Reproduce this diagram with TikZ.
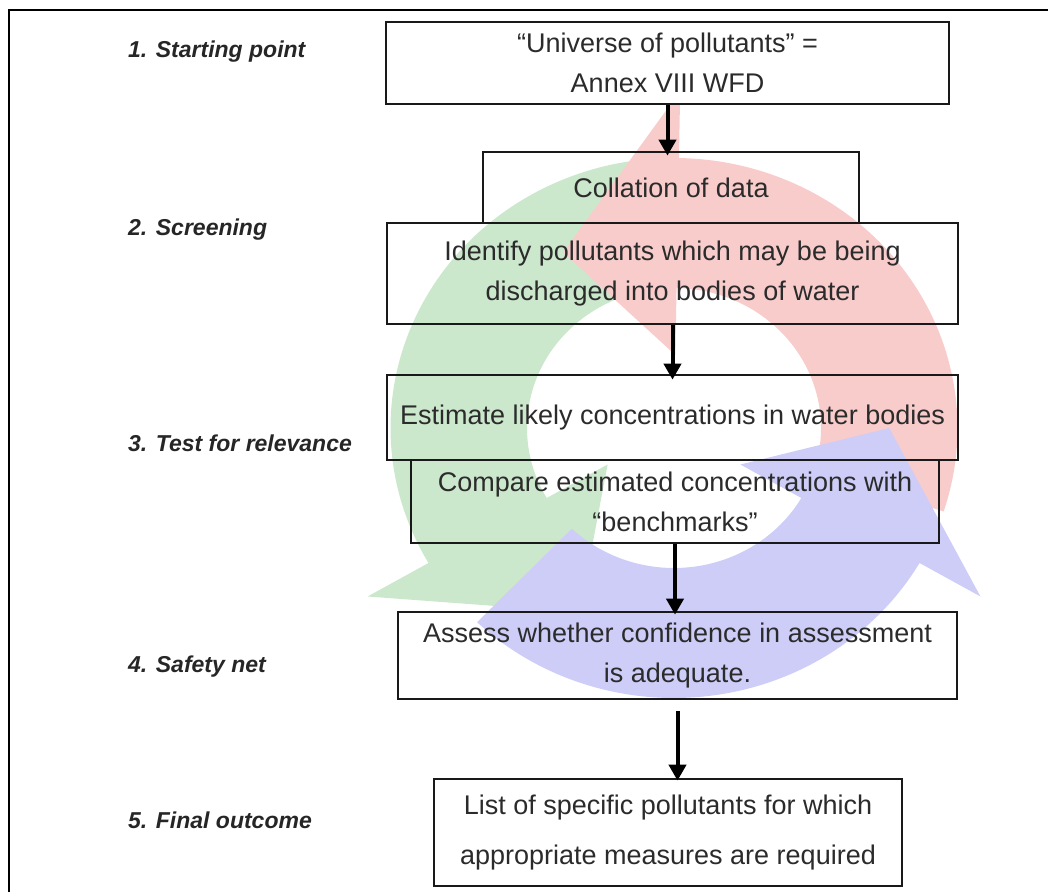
\documentclass[tikz,border=0pt]{standalone}
\usepackage{fontspec}
\setmainfont{Liberation Sans}
\usetikzlibrary{arrows.meta,positioning}
\definecolor{cycGreen}{HTML}{CCE8CC}
\definecolor{cycRed}{HTML}{F9CCCC}
\definecolor{cycBlue}{HTML}{CDCDF8}
\definecolor{boxInk}{HTML}{2B2B2B}

% one band of the cycle: colour, tail angle, head base angle, tip angle
\newcommand{\cyclearrow}[4]{%
  \fill[#1] (#2:270) arc[start angle=#2, end angle=#3, radius=270]
    -- (#3:337) -- (#4:205) -- (#3:73) -- (#3:140)
    arc[start angle=#3, end angle=#2, radius=140] -- cycle;}

\begin{document}
\begin{tikzpicture}[x=1pt,y=1pt,
    box/.style={draw=black!90,line width=2.7pt,align=center,inner sep=0pt,
                text=boxInk,font=\fontsize{27}{40}\selectfont},
    stage/.style={anchor=west,inner sep=0pt,text=black!85,
                  font=\fontsize{23}{28}\selectfont\bfseries\itshape},
    conn/.style={line width=4pt,-{Triangle[width=17pt,length=16pt]}}]
  \useasboundingbox (0,0) rectangle (1048,892);
  % frame
  \draw[line width=1.5pt] (9,0) |- (1048,882);

  % cycle behind the flow
  \begin{scope}[shift={(674,464)},xscale=1.05]
    \cyclearrow{cycGreen}{97}{210}{244}
    \cyclearrow{cycRed}{-18}{89}{121}
    \cyclearrow{cycBlue}{226}{330}{360}
  \end{scope}

  % flow boxes
  \node[box,fill=white,minimum width=563pt,minimum height=82pt] (start) at (667.5,829)
    {“Universe of pollutants” =\\Annex VIII WFD};
  \node[box,minimum width=376pt,minimum height=71pt] (collate) at (671,704.5)
    {Collation of data};
  \node[box,minimum width=571pt,minimum height=101pt] (identify) at (672.5,618.5)
    {Identify pollutants which may be being\\discharged into bodies of water};
  \node[box,minimum width=571pt,minimum height=85pt] (estimate) at (672.5,474.5)
    {Estimate likely concentrations in water bodies};
  \node[box,minimum width=528pt,minimum height=83pt] (compare) at (675,390.5)
    {Compare estimated concentrations with\\“benchmarks”};
  \node[box,minimum width=559pt,minimum height=87pt] (assess) at (677.5,236.5)
    {Assess whether confidence in assessment\\is adequate.};
  \node[box,minimum width=468pt,minimum height=107pt,
        font=\fontsize{27}{50}\selectfont] (outcome) at (668,59.5)
    {List of specific pollutants for which\\appropriate measures are required};

  % connectors
  \draw[conn,shorten >=-5pt] (start.south) -- (start.south |- collate.north);
  \draw[conn,shorten >=-6pt] (identify.south) -- (identify.south |- estimate.north);
  \draw[conn,shorten >=-4pt] (compare.south) -- (compare.south |- assess.north);
  \draw[conn,shorten <=11pt,shorten >=-3pt] (assess.south) -- (assess.south |- outcome.north);

  % stage labels
  \node[stage] (s1) at (128,840) {1. Starting point};
  \node[stage] (s2) at (128,662) {2. Screening};
  \node[stage] (s3) at (128,449) {3. Test for relevance};
  \node[stage] (s4) at (128,225) {4. Safety net};
  \node[stage] (s5) at (128,72) {5. Final outcome};
\end{tikzpicture}
\end{document}
